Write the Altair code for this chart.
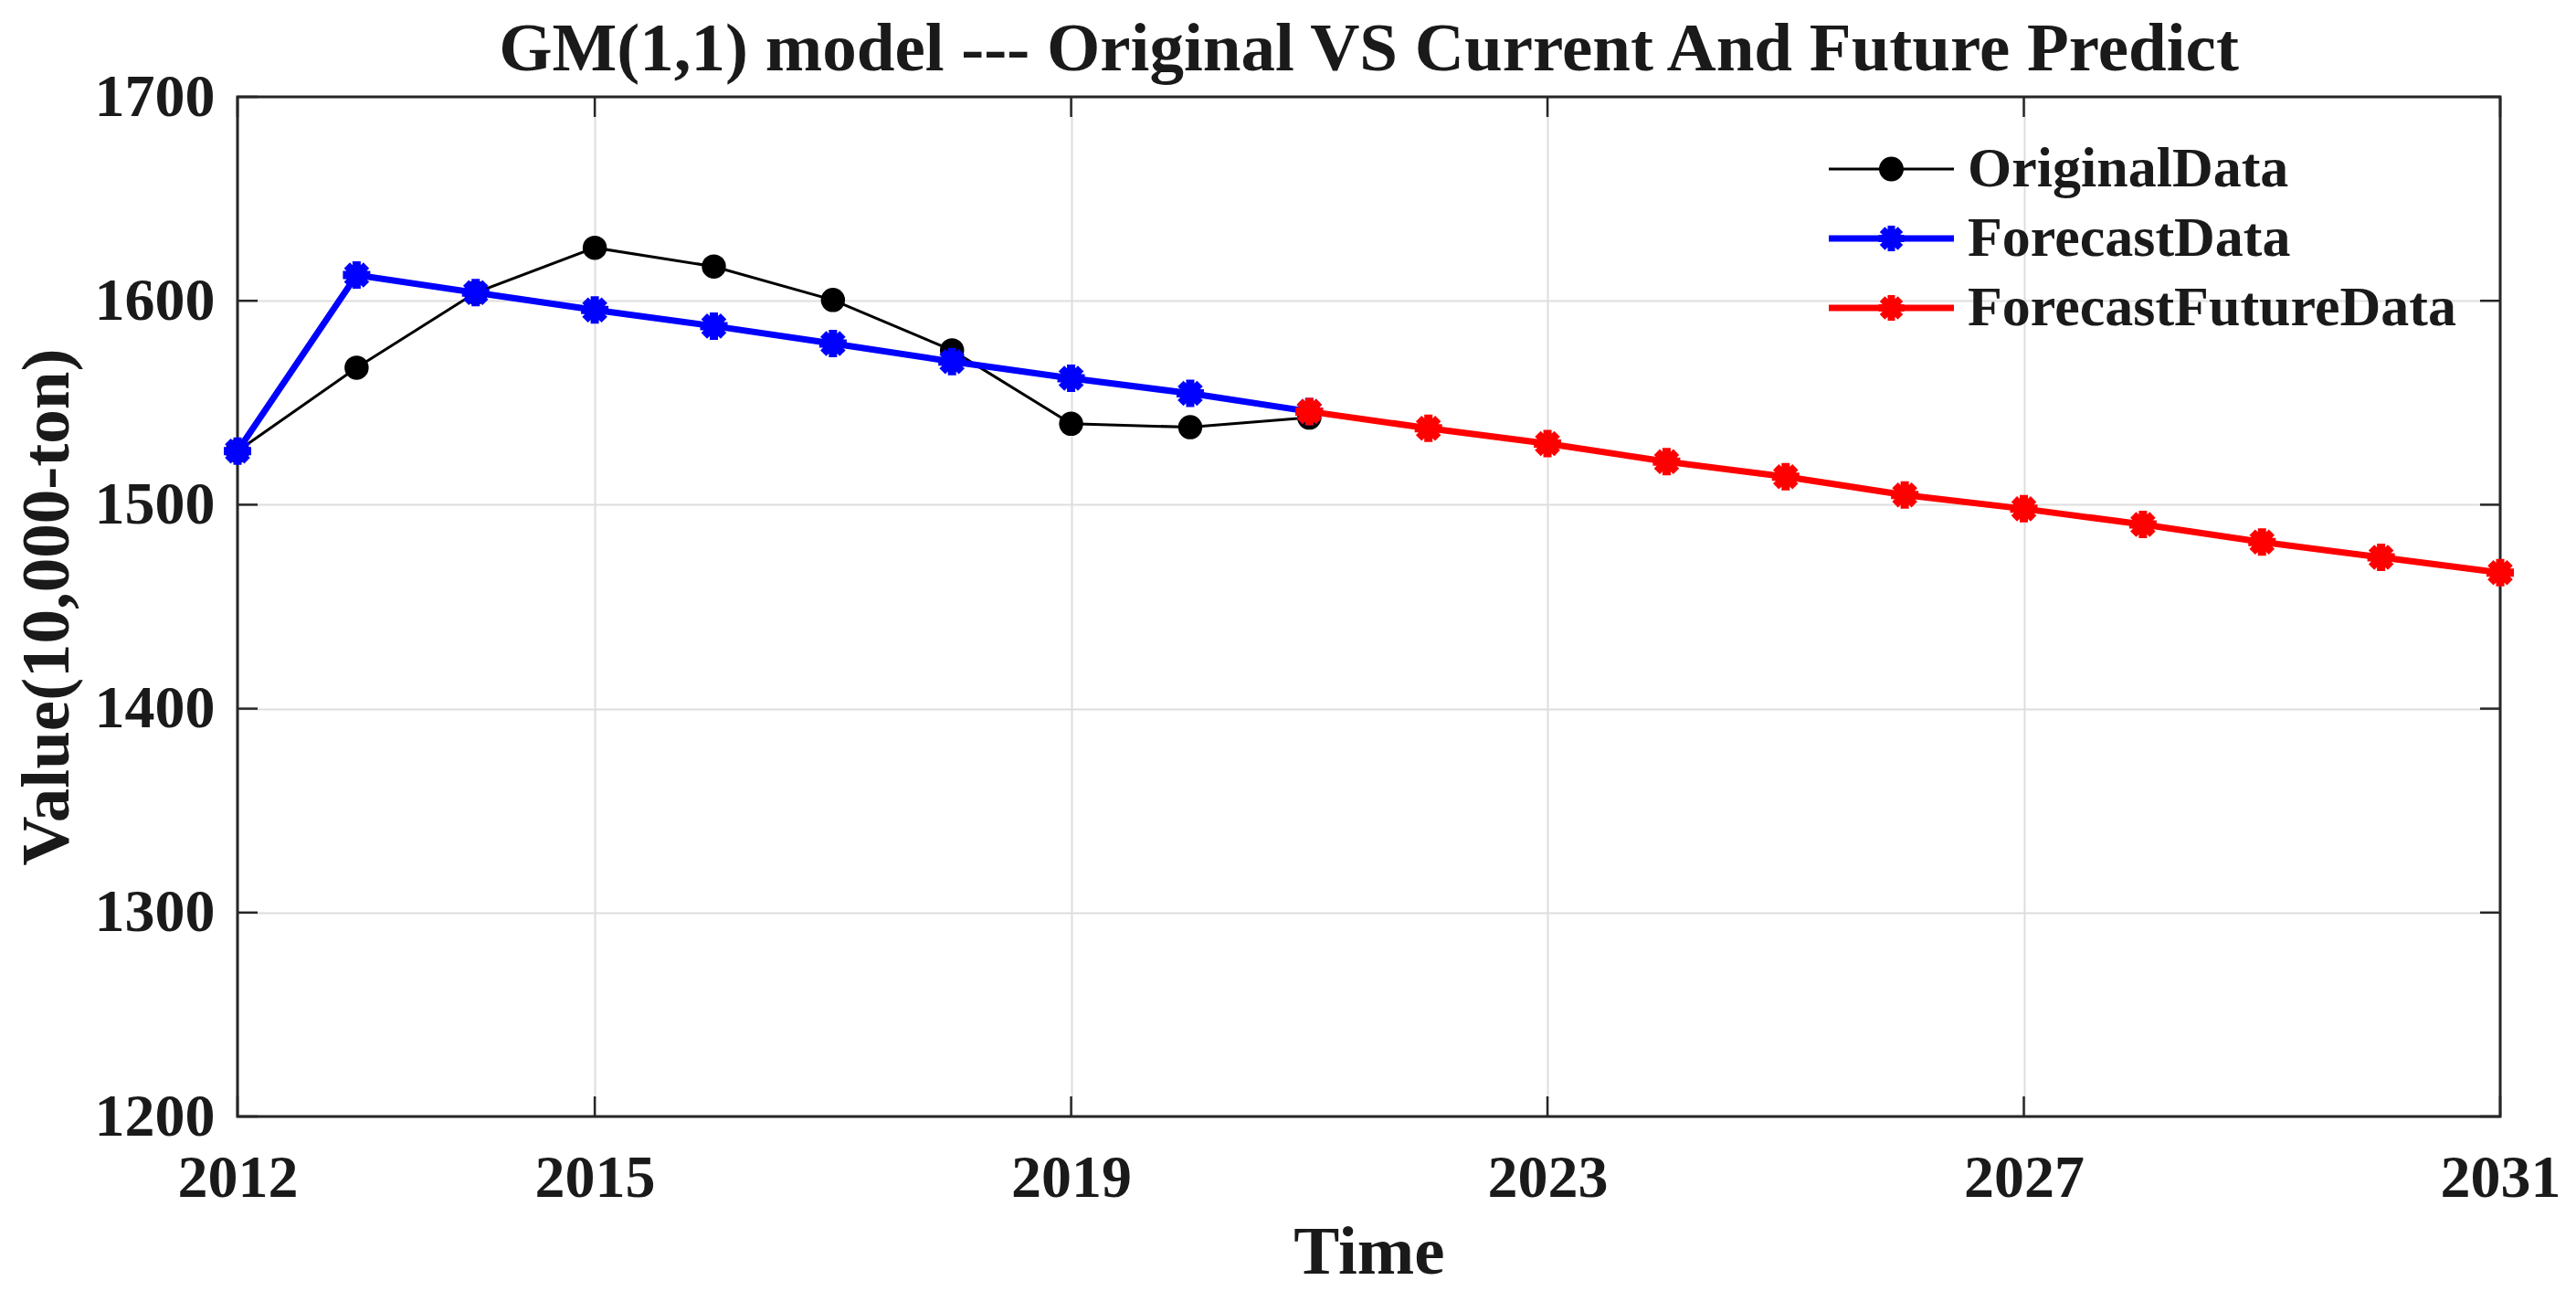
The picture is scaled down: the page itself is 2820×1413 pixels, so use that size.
import math
import altair as alt
import pandas as pd

# ---------------- data ----------------
years_hist = list(range(2012, 2022))
original = [1526.3, 1567.2, 1604.0, 1626.0, 1616.8, 1600.4, 1575.7, 1539.7, 1538.0, 1542.7]
forecast = [1526.3, 1612.6, 1604.0, 1595.5, 1587.6, 1579.0, 1570.2, 1562.0, 1554.6, 1545.7]
years_future = list(range(2021, 2032))
future = [1545.7, 1537.5, 1530.0, 1521.1, 1513.7, 1504.8, 1498.0, 1490.3, 1481.7, 1474.2, 1466.7]

series_names = ["OriginalData", "ForecastData", "ForecastFutureData"]
series_colors = ["#000000", "#0000ff", "#ff0000"]
x_ticks = [2012, 2015, 2019, 2023, 2027, 2031]
y_ticks = [1200, 1300, 1400, 1500, 1600, 1700]

title_text = "GM(1,1) model --- Original VS Current And Future Predict"
x_title = "Time"
y_title = "Value(10,000-ton)"

# ---------------- styling ----------------
W, H = 2477, 1116
FONT = "Liberation Serif"
TXT = "#1a1a1a"
AXC = "#262626"


def star_path(r, w):
    parts = []
    for k in range(4):
        th = k * math.pi / 4
        dx, dy = math.cos(th), math.sin(th)
        nx, ny = -dy, dx
        pts = [(-r * dx - w * nx, -r * dy - w * ny), (r * dx - w * nx, r * dy - w * ny),
               (r * dx + w * nx, r * dy + w * ny), (-r * dx + w * nx, -r * dy + w * ny)]
        parts.append("M" + "L".join(f"{x:.4f},{y:.4f}" for x, y in pts) + "Z")
    return "".join(parts)


PLOT_STAR = star_path(1.0, 0.3)

# legend symbols: line segment + marker (unit = sqrt(symbolSize)/2 px)
LEG_LEN = 137.0
U = LEG_LEN / 2


def seg(half_px):
    h = half_px / U
    return f"M-1,{-h:.4f}H1V{h:.4f}H-1Z"


rc = 13.5 / U
leg_orig = seg(1.5) + f"M{rc:.4f},0A{rc:.4f},{rc:.4f} 0 1,1 {-rc:.4f},0A{rc:.4f},{rc:.4f} 0 1,1 {rc:.4f},0Z"
leg_fc = seg(3.6) + star_path(14 / U, 4.0 / U)
leg_fut = seg(3.6) + star_path(14 / U, 4.0 / U)
legend_paths = [leg_orig, leg_fc, leg_fut]

df_orig = pd.DataFrame({"year": years_hist, "value": original})
df_fc = pd.DataFrame({"year": years_hist, "value": forecast})
df_fut = pd.DataFrame({"year": years_future, "value": future})
df_leg = pd.DataFrame({"series": series_names})
df_xt = pd.DataFrame({"year": x_ticks})
df_yt = pd.DataFrame({"value": y_ticks})

x_scale = alt.Scale(domain=[2012, 2031], nice=False, zero=False)
y_scale = alt.Scale(domain=[1200, 1700], nice=False, zero=False)

x_axis = alt.Axis(values=x_ticks, format="d", title=x_title, grid=True, ticks=False, tickSize=0,
                  domain=False, labelPadding=35, titlePadding=12, labelFlush=False,
                  labelOverlap=False, gridColor="#dedede", gridWidth=2)
y_axis = alt.Axis(values=y_ticks, format="d", title=y_title, grid=True, ticks=False, tickSize=0,
                  domain=False, labelPadding=25, titlePadding=13, labelOverlap=False,
                  gridColor="#dedede", gridWidth=2)

X = alt.X("year:Q", scale=x_scale, axis=x_axis)
Y = alt.Y("value:Q", scale=y_scale, axis=y_axis)

frame = alt.Chart(alt.Data(values=[{"a": 1}])).mark_rect(
    fillOpacity=0, stroke=AXC, strokeWidth=3
).encode(x=alt.value(0), x2=alt.value(W), y=alt.value(0), y2=alt.value(H))

tick_len = 22
xt_bottom = alt.Chart(df_xt).mark_rule(color=AXC, strokeWidth=2.5).encode(
    x=X, y=alt.value(H), y2=alt.value(H - tick_len))
xt_top = alt.Chart(df_xt).mark_rule(color=AXC, strokeWidth=2.5).encode(
    x=X, y=alt.value(0), y2=alt.value(tick_len))
yt_left = alt.Chart(df_yt).mark_rule(color=AXC, strokeWidth=2.5).encode(
    y=Y, x=alt.value(0), x2=alt.value(tick_len))
yt_right = alt.Chart(df_yt).mark_rule(color=AXC, strokeWidth=2.5).encode(
    y=Y, x=alt.value(W - tick_len), x2=alt.value(W))

orig_line = alt.Chart(df_orig).mark_line(color=series_colors[0], strokeWidth=3).encode(x=X, y=Y)
orig_pts = alt.Chart(df_orig).mark_point(shape="circle", filled=True, size=700,
                                         color=series_colors[0], opacity=1).encode(x=X, y=Y)
fc_line = alt.Chart(df_fc).mark_line(color=series_colors[1], strokeWidth=7).encode(x=X, y=Y)
fc_pts = alt.Chart(df_fc).mark_point(shape=PLOT_STAR, filled=True, size=900,
                                     color=series_colors[1], opacity=1).encode(x=X, y=Y)
fut_line = alt.Chart(df_fut).mark_line(color=series_colors[2], strokeWidth=7).encode(x=X, y=Y)
fut_pts = alt.Chart(df_fut).mark_point(shape=PLOT_STAR, filled=True, size=900,
                                       color=series_colors[2], opacity=1).encode(x=X, y=Y)

leg = alt.Legend(title=None, orient="none", legendX=1742, legendY=48, padding=0,
                 labelFont=FONT, labelFontWeight="bold", labelFontSize=62, labelColor=TXT,
                 labelLimit=2000, labelOffset=15, rowPadding=14, clipHeight=62,
                 symbolSize=LEG_LEN ** 2, symbolStrokeWidth=0, symbolOpacity=1)
legend_layer = alt.Chart(df_leg).mark_point(filled=True, opacity=0).encode(
    shape=alt.Shape("series:N", scale=alt.Scale(domain=series_names, range=legend_paths), legend=leg),
    color=alt.Color("series:N", scale=alt.Scale(domain=series_names, range=series_colors), legend=leg),
)

chart = alt.layer(
    frame, xt_bottom, xt_top, yt_left, yt_right,
    orig_line, orig_pts, fc_line, fc_pts, fut_line, fut_pts,
    legend_layer,
).properties(
    width=W, height=H,
    autosize=alt.AutoSizeParams(type="none"),
    padding={"left": 252, "top": 98, "right": 70, "bottom": 190},
    title=alt.TitleParams(text=title_text, font=FONT, fontSize=75, fontWeight="bold", color=TXT,
                          offset=12, dy=32, frame="group", anchor="middle"),
).configure_view(stroke=None).configure_axis(
    labelFont=FONT, labelFontWeight="bold", labelFontSize=66, labelColor=TXT,
    titleFont=FONT, titleFontWeight="bold", titleFontSize=75, titleColor=TXT,
)

chart.save("out.html", embed_options={"renderer": "svg", "actions": False})
